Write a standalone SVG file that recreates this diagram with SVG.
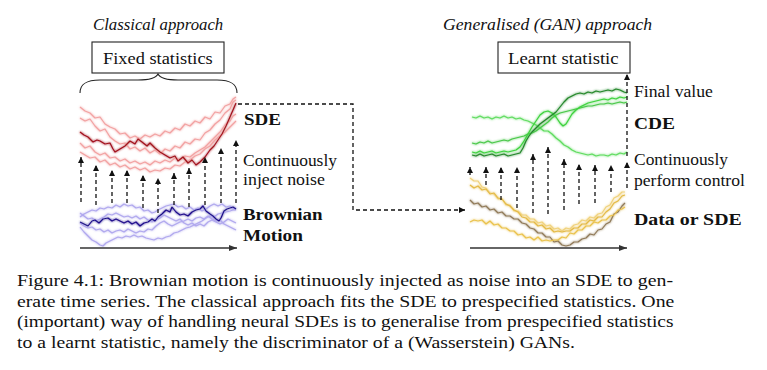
<svg xmlns="http://www.w3.org/2000/svg" width="767" height="370" viewBox="0 0 767 370">
<style>
.box{fill:#fff;stroke:#222;stroke-width:1.1}
.dash{fill:none;stroke:#111;stroke-width:1.3;stroke-dasharray:4 3}
.axis{fill:none;stroke:#333;stroke-width:1.4}
.p{fill:none;stroke-width:1.2;stroke-linejoin:round}
.rl{stroke:#f2a2a2}
.rd{stroke:#a2121c}
.bl{stroke:#b0a8ee}
.bd{stroke:#1e0f8c}
</style>
<defs>
<marker id="ah" viewBox="0 0 6 6" refX="6" refY="3" markerWidth="6" markerHeight="6" markerUnits="userSpaceOnUse" orient="auto"><path d="M0,0L6,3L0,6z" fill="#111"/></marker>
<marker id="ax" viewBox="0 0 8 6" refX="8" refY="3" markerWidth="8" markerHeight="6" markerUnits="userSpaceOnUse" orient="auto"><path d="M0,0L8,3L0,6z" fill="#333"/></marker>
<filter id="glow" x="-5%" y="-20%" width="110%" height="140%"><feGaussianBlur in="SourceGraphic" stdDeviation="0.8" result="b"/><feMerge><feMergeNode in="b"/><feMergeNode in="SourceGraphic"/></feMerge></filter>
</defs>

<g id="classical-title"><text font-family="Liberation Serif" font-size="16.5" font-style="italic" fill="#111" transform="translate(93,30) scale(1.017,1)">Classical approach</text></g>
<g id="fixed-statistics"><rect class="box" x="92" y="42" width="132" height="31"/><text font-family="Liberation Serif" font-size="16.5" fill="#111" transform="translate(103,64) scale(1.114,1)">Fixed statistics</text></g>
<g id="brace"><path d="M80,93C80,84 86,80 100,80L138,80C150,80 156,78 158,74C160,78 166,80 178,80L217,80C231,80 237,84 237,93" fill="none" stroke="#222" stroke-width="1.1"/></g>

<g id="sde-paths" filter="url(#glow)">
<polyline class="p rl" points="80,107 85,111 90,113 95,118 100,117 105,124 110,127 115,129 120,134 125,133 130,138 135,136 140,139 145,135 150,137 155,134 160,136 165,131 170,133 175,128 180,130 185,124 190,126 195,121 200,123 205,117 210,119 215,112 220,113 225,106 230,104 233,99 236,97"/>
<polyline class="p rl" points="80,118 85,121 90,119 95,126 100,131 105,129 110,137 115,141 120,144 125,143 130,149 135,147 140,151 145,148 150,153 155,150 160,154 165,149 170,151 175,146 180,148 185,142 190,144 195,139 200,140 205,133 210,130 215,124 220,120 225,113 230,109 233,102 236,100"/>
<polyline class="p rl" points="80,143 85,148 90,146 95,152 100,155 105,153 110,158 115,157 120,161 125,159 130,163 135,161 140,164 145,162 150,165 155,161 160,163 165,160 170,162 175,158 180,160 185,156 190,157 195,153 200,150 205,147 210,142 215,137 220,132 225,125 230,121 233,116 236,114"/>
<polyline class="p rl" points="80,152 85,155 90,158 95,157 100,162 105,160 110,165 115,163 120,167 125,165 130,169 135,167 140,170 145,168 150,172 155,170 160,171 165,168 170,169 175,165 180,166 185,162 190,160 195,156 200,154 205,149 210,146 215,140 220,136 225,132 230,127 233,124 236,121"/>
<polyline class="p rd" points="80,132 84,135 88,137 93,142 97,140 100,141 105,144 110,143 113,149 115,152 120,149 125,146 130,141 135,144 138,139 142,142 147,146 150,143 155,148 160,152 165,155 170,158 175,156 178,161 183,157 188,163 192,160 196,165 200,162 205,157 210,150 214,146 218,140 222,134 226,126 230,117 233,110 236,103"/>
</g>

<g id="brownian-paths" filter="url(#glow)">
<polyline class="p bl" points="80,217 84,214 88,212 92,210 96,211 100,208 104,209 108,207 112,208 116,205 120,207 124,204 128,206 132,205 136,208 140,207 144,211 148,210 152,213 155,212 158,210 162,208 166,206 170,205 174,204 178,207 182,206 186,209 190,207 194,210 198,208 202,211 206,209 210,206 214,204 218,206 222,204 226,207 230,206 233,209 236,208"/>
<polyline class="p bl" points="80,223 84,226 88,228 92,227 96,230 100,229 104,232 108,230 112,233 116,231 120,230 124,232 128,229 132,231 136,233 140,231 144,232 148,229 152,230 156,226 160,223 164,221 168,224 172,226 176,224 180,222 184,221 188,219 192,221 196,218 200,217 204,219 208,216 212,219 216,221 220,220 224,224 228,226 232,228 236,230"/>
<polyline class="p bl" points="80,227 84,232 88,236 92,240 96,242 100,245 103,246 106,243 110,241 114,239 118,237 122,238 126,236 130,237 134,235 138,237 142,236 146,238 150,239 154,240 158,238 162,239 166,237 170,236 174,233 178,232 182,230 186,228 190,227 194,225 198,223 202,221 206,218 210,216 214,217 218,214 222,213 226,212 230,211 233,210 236,210"/>
<polyline class="p bl" points="80,213 84,216 88,219 92,218 96,221 100,219 104,217 108,214 112,215 116,213 120,215 124,217 128,216 132,218 136,216 140,219 144,217 148,220 152,222 156,220 160,218 164,215 168,217 172,219 176,221 180,219 184,223 188,225 192,223 196,226 200,224 204,226 208,222 212,220 216,222 220,224 224,222 228,219 232,221 236,223"/>
<polyline class="p bd" points="80,222 84,224 88,226 92,221 95,220 99,223 103,219 108,218 112,221 116,219 120,221 124,223 128,221 132,224 136,222 140,226 144,223 148,222 152,219 155,221 158,217 162,214 166,210 170,212 172,207 176,212 180,215 184,214 188,216 192,212 196,210 200,209 203,206 206,211 210,214 213,216 216,219 219,221 221,218 224,211 227,209 230,208 233,207 236,209"/>
</g>

<g id="left-labels">
<text font-family="Liberation Serif" font-size="16.5" font-weight="bold" fill="#111" transform="translate(244,125) scale(1.153,1)">SDE</text>
<text font-family="Liberation Serif" font-size="16.5" fill="#111" transform="translate(243,166) scale(1.057,1)">Continuously</text>
<text font-family="Liberation Serif" font-size="16.5" fill="#111" transform="translate(243,185) scale(1.084,1)">inject noise</text>
<text font-family="Liberation Serif" font-size="16.5" font-weight="bold" fill="#111" transform="translate(243,220) scale(1.148,1)">Brownian</text>
<text font-family="Liberation Serif" font-size="16.5" font-weight="bold" fill="#111" transform="translate(243,241) scale(1.169,1)">Motion</text>
</g>

<g id="gan-title"><text font-family="Liberation Serif" font-size="16.5" font-style="italic" fill="#111" transform="translate(443,30) scale(1.071,1)">Generalised (GAN) approach</text></g>
<g id="learnt-statistic"><rect class="box" x="498" y="42" width="132" height="31"/><text font-family="Liberation Serif" font-size="16.5" fill="#111" transform="translate(508,64) scale(1.135,1)">Learnt statistic</text></g>

<g id="cde-paths" filter="url(#glow)">
<polyline class="p" stroke="#5fdc5f" points="472,117 476,118 480,116 484,118 488,117 492,119 496,117 500,118 504,116 508,118 512,117 516,119 520,118 524,120 528,121 532,123 536,125 540,128 544,131 548,131 552,134 556,138 560,141 564,145 568,147 572,150 576,152 580,153 584,154 588,155 592,154 596,156 600,155 604,155 608,156 612,154 616,155 620,153 624,154 627,152"/>
<polyline class="p" stroke="#48c848" points="472,143 476,144 480,142 484,143 488,141 492,143 496,142 500,141 504,140 508,141 512,139 516,138 520,137 524,136 528,134 532,133 536,131 540,128 544,125 548,122 552,118 556,115 560,113 564,112 568,111 572,110 576,109 580,108 584,107 588,106 592,106 596,105 600,104 604,104 608,103 612,104 616,103 620,102 624,103 627,102"/>
<polyline class="p" stroke="#3dd23d" points="472,152 476,153 480,151 484,153 488,152 492,151 496,153 500,152 504,151 508,152 512,151 516,150 520,147 524,141 528,134 532,127 536,121 540,115 544,112 548,111 552,113 556,117 560,123 563,126 566,124 569,119 572,114 576,110 580,107 584,105 588,103 592,102 596,101 600,100 604,99 608,100 612,98 616,99 620,97 624,98 627,97"/>
<polyline class="p" stroke="#24872a" points="472,155 476,156 480,154 484,156 488,155 492,154 496,156 500,155 504,154 508,156 512,155 516,154 520,153 523,148 526,141 529,136 532,132 536,128 540,124 544,121 548,118 552,115 556,112 560,107 564,102 568,98 572,96 576,94 580,93 584,94 588,92 592,93 596,91 600,92 604,91 608,90 612,91 616,89 620,90 624,92 627,93"/>
</g>

<g id="data-paths" filter="url(#glow)">
<polyline class="p" stroke="#f0d27c" points="470,178 474,181 478,181 482,187 486,188 490,193 494,194 498,199 502,199 506,205 510,205 514,211 518,211 522,215 526,215 530,219 534,219 538,223 542,222 546,226 550,225 554,229 558,228 562,231 566,228 570,229 574,225 578,224 582,220 586,221 590,217 594,218 598,214 602,213 606,207 610,205 614,198 618,196 622,192 625,192"/>
<polyline class="p" stroke="#e4ba45" points="470,185 474,188 478,186 482,190 486,189 490,194 494,193 498,198 502,199 506,204 510,206 514,210 518,212 522,217 526,218 530,222 534,222 538,226 542,225 546,229 550,228 554,232 558,231 562,232 566,231 570,231 574,228 578,228 582,224 586,224 590,220 594,221 598,217 602,217 606,212 610,209 614,203 618,201 622,196 625,195"/>
<polyline class="p" stroke="#907a58" points="470,200 474,204 478,203 482,207 486,206 490,210 494,209 498,213 502,212 506,216 510,216 514,219 518,219 522,223 526,224 530,228 534,229 538,233 542,233 546,237 550,237 554,242 558,241 562,245 566,246 570,245 574,242 578,242 582,239 586,238 590,234 594,235 598,230 602,229 606,224 610,222 614,214 618,212 622,206 625,203"/>
<polyline class="p" stroke="#eac24c" points="470,222 474,220 478,221 482,220 486,224 490,221 494,225 498,224 502,228 506,228 510,231 514,231 518,235 522,234 526,238 530,237 534,240 538,237 542,241 546,240 550,241 554,240 558,240 562,237 566,238 570,233 574,234 578,230 582,230 586,226 590,226 594,222 598,223 602,220 606,220 610,216 614,215 618,210 622,209 625,207"/>
</g>

<g id="right-labels">
<text font-family="Liberation Serif" font-size="16.5" fill="#111" transform="translate(634,97) scale(1.071,1)">Final value</text>
<text font-family="Liberation Serif" font-size="16.5" font-weight="bold" fill="#111" transform="translate(634,129) scale(1.177,1)">CDE</text>
<text font-family="Liberation Serif" font-size="16.5" fill="#111" transform="translate(634,165) scale(1.057,1)">Continuously</text>
<text font-family="Liberation Serif" font-size="16.5" fill="#111" transform="translate(634,186) scale(1.067,1)">perform control</text>
<text font-family="Liberation Serif" font-size="16.5" font-weight="bold" fill="#111" transform="translate(634,225) scale(1.203,1)">Data or SDE</text>
</g>

<g id="connectors">
<path class="dash" marker-end="url(#ah)" d="M81,202V157"/>
<path class="dash" marker-end="url(#ah)" d="M96,205V165"/>
<path class="dash" marker-end="url(#ah)" d="M112,203V170"/>
<path class="dash" marker-end="url(#ah)" d="M127,203V170"/>
<path class="dash" marker-end="url(#ah)" d="M143,208V175"/>
<path class="dash" marker-end="url(#ah)" d="M158,213V178"/>
<path class="dash" marker-end="url(#ah)" d="M174,205V173"/>
<path class="dash" marker-end="url(#ah)" d="M189,207V168"/>
<path class="dash" marker-end="url(#ah)" d="M205,205V157"/>
<path class="dash" marker-end="url(#ah)" d="M221,203V148"/>
<path class="dash" marker-end="url(#ah)" d="M236,203V140"/>
<path class="axis" marker-end="url(#ax)" d="M80,248H237"/>
<path class="dash" marker-end="url(#ah)" d="M238,104H353V210H465"/>
<path class="dash" marker-end="url(#ah)" d="M470,175V167"/>
<path class="dash" marker-end="url(#ah)" d="M486,185V167"/>
<path class="dash" marker-end="url(#ah)" d="M501,200V167"/>
<path class="dash" marker-end="url(#ah)" d="M517,208V167"/>
<path class="dash" marker-end="url(#ah)" d="M533,213V154"/>
<path class="dash" marker-end="url(#ah)" d="M548,214V147"/>
<path class="dash" marker-end="url(#ah)" d="M564,210V159"/>
<path class="dash" marker-end="url(#ah)" d="M579,204V164"/>
<path class="dash" marker-end="url(#ah)" d="M595,203V165"/>
<path class="dash" marker-end="url(#ah)" d="M611,192V165"/>
<path class="dash" marker-end="url(#ah)" d="M627,188V162"/>
<path class="dash" marker-end="url(#ah)" d="M627,156V74"/>
<path class="axis" marker-end="url(#ax)" d="M470,248H627"/>
</g>

<g id="caption">
<text font-family="Liberation Serif" font-size="16.5" fill="#111" transform="translate(17,286) scale(1.203,1)">Figure 4.1: Brownian motion is continuously injected as noise into an SDE to gen-</text>
<text font-family="Liberation Serif" font-size="16.5" fill="#111" transform="translate(17,307) scale(1.199,1)">erate time series. The classical approach fits the SDE to prespecified statistics. One</text>
<text font-family="Liberation Serif" font-size="16.5" fill="#111" transform="translate(17,327) scale(1.176,1)">(important) way of handling neural SDEs is to generalise from prespecified statistics</text>
<text font-family="Liberation Serif" font-size="16.5" fill="#111" transform="translate(17,348) scale(1.196,1)">to a learnt statistic, namely the discriminator of a (Wasserstein) GANs.</text>
</g>
</svg>
